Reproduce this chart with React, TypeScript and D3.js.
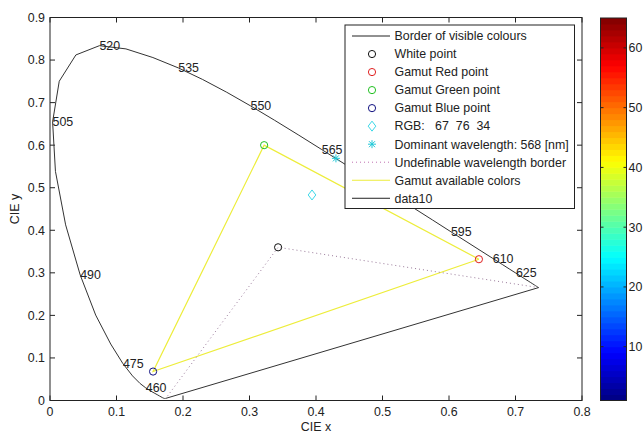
import React, { useEffect, useRef } from "react";
import * as d3 from "d3";

// CIE 1931 spectral locus, 5 nm steps
const wavelengths = [
  380, 385, 390, 395, 400, 405, 410, 415, 420, 425, 430, 435, 440, 445, 450, 455,
  460, 465, 470, 475, 480, 485, 490, 495, 500, 505, 510, 515, 520, 525, 530, 535,
  540, 545, 550, 555, 560, 565, 570, 575, 580, 585, 590, 595, 600, 605, 610, 615,
  620, 625, 630, 635, 640, 645, 650, 655, 660, 665, 670, 675, 680, 685, 690, 695, 700,
];
const locusX = [
  0.1741, 0.174, 0.1738, 0.1736, 0.1733, 0.173, 0.1726, 0.1721, 0.1714, 0.1703, 0.1689, 0.1669, 0.1644, 0.1611, 0.1566, 0.151,
  0.144, 0.1355, 0.1241, 0.1096, 0.0913, 0.0687, 0.0454, 0.0235, 0.0082, 0.0039, 0.0139, 0.0389, 0.0743, 0.1142, 0.1547, 0.1929,
  0.2296, 0.2658, 0.3016, 0.3373, 0.3731, 0.4087, 0.4441, 0.4788, 0.5125, 0.5448, 0.5752, 0.6029, 0.627, 0.6482, 0.6658, 0.6801,
  0.6915, 0.7006, 0.7079, 0.714, 0.719, 0.723, 0.726, 0.7283, 0.73, 0.7311, 0.732, 0.7327, 0.7334, 0.734, 0.7344, 0.7346, 0.7347,
];
const locusY = [
  0.005, 0.005, 0.0049, 0.0049, 0.0048, 0.0048, 0.0048, 0.0048, 0.0051, 0.0058, 0.0069, 0.0086, 0.0109, 0.0138, 0.0177, 0.0227,
  0.0297, 0.0399, 0.0578, 0.0868, 0.1327, 0.2007, 0.295, 0.4127, 0.5384, 0.6548, 0.7502, 0.812, 0.8338, 0.8262, 0.8059, 0.7816,
  0.7543, 0.7243, 0.6923, 0.6589, 0.6245, 0.5896, 0.5547, 0.5202, 0.4866, 0.4544, 0.4242, 0.3965, 0.3725, 0.3514, 0.334, 0.3197,
  0.3083, 0.2993, 0.292, 0.2859, 0.2809, 0.277, 0.274, 0.2717, 0.27, 0.2689, 0.268, 0.2673, 0.2666, 0.266, 0.2656, 0.2654, 0.2653,
];
// 580 sits behind the legend in the reference, so it is not drawn
const labelWavelengths = [460, 475, 490, 505, 520, 535, 550, 565, 595, 610, 625];

const whitePoint = [0.343, 0.36];
const gamutRed = [0.645, 0.332];
const gamutGreen = [0.322, 0.6];
const gamutBlue = [0.155, 0.068];
const rgbPoint = [0.394, 0.483];
const dominantPoint = [0.43, 0.569];

const xTicks = [0, 0.1, 0.2, 0.3, 0.4, 0.5, 0.6, 0.7, 0.8];
const yTicks = [0, 0.1, 0.2, 0.3, 0.4, 0.5, 0.6, 0.7, 0.8, 0.9];
const colorbarTicks = [10, 20, 30, 40, 50, 60];

const legendLabels = [
  "Border of visible colours",
  "White point",
  "Gamut Red point",
  "Gamut Green point",
  "Gamut Blue point",
  "RGB:   67  76  34",
  "Dominant wavelength: 568 [nm]",
  "Undefinable wavelength border",
  "Gamut available colors",
  "data10",
];

const FONT = "'Liberation Sans', Arial, sans-serif";

// jet colormap (style only)
const jet = (t: number) => {
  const c = (v: number) => Math.round(255 * Math.max(0, Math.min(1, v)));
  return `rgb(${c(1.5 - Math.abs(4 * t - 3))},${c(1.5 - Math.abs(4 * t - 2))},${c(1.5 - Math.abs(4 * t - 1))})`;
};

const App = () => {
  const ref = useRef<SVGSVGElement>(null);

  useEffect(() => {
    const svg = d3.select(ref.current);
    svg.selectAll("*").remove();

    const left = 50, right = 582, top = 17.5, bottom = 400.5;
    const x = d3.scaleLinear().domain([0, 0.8]).range([left, right]);
    const y = d3.scaleLinear().domain([0, 0.9]).range([bottom, top]);
    const ink = "#222";

    svg.append("rect").attr("width", 643).attr("height", 434).attr("fill", "#fff");

    const g = svg.append("g").style("font-family", FONT).style("font-size", "12.4px");

    // ticks (inward, all sides)
    xTicks.forEach((t) => {
      g.append("line").attr("x1", x(t)).attr("x2", x(t)).attr("y1", bottom).attr("y2", bottom - 5).attr("stroke", ink);
      g.append("line").attr("x1", x(t)).attr("x2", x(t)).attr("y1", top).attr("y2", top + 5).attr("stroke", ink);
      g.append("text").attr("x", x(t)).attr("y", bottom + 15).attr("text-anchor", "middle").attr("fill", ink).text(String(t));
    });
    yTicks.forEach((t) => {
      g.append("line").attr("x1", left).attr("x2", left + 5).attr("y1", y(t)).attr("y2", y(t)).attr("stroke", ink);
      g.append("line").attr("x1", right).attr("x2", right - 5).attr("y1", y(t)).attr("y2", y(t)).attr("stroke", ink);
      g.append("text").attr("x", left - 5).attr("y", y(t)).attr("dy", "0.35em").attr("text-anchor", "end").attr("fill", ink).text(String(t));
    });

    g.append("text").attr("x", (left + right) / 2).attr("y", 431).attr("text-anchor", "middle").attr("fill", ink).text("CIE x");
    g.append("text")
      .attr("transform", `translate(19,${(top + bottom) / 2}) rotate(-90)`)
      .attr("text-anchor", "middle")
      .attr("fill", ink)
      .text("CIE y");

    const pts = wavelengths.map((w, i) => ({ w, x: locusX[i], y: locusY[i] }));
    const line = d3.line<{ x: number; y: number }>().x((d) => x(d.x)).y((d) => y(d.y));

    // gamut triangle
    const tri = [gamutRed, gamutGreen, gamutBlue, gamutRed].map((p) => ({ x: p[0], y: p[1] }));
    g.append("path").datum(tri).attr("d", line).attr("fill", "none").attr("stroke", "#eded3a").attr("stroke-width", 1.2);

    // undefinable wavelength border
    const first = pts[0], last = pts[pts.length - 1];
    const undef = [{ x: last.x, y: last.y }, { x: whitePoint[0], y: whitePoint[1] }, { x: first.x, y: first.y }];
    g.append("path").datum(undef).attr("d", line).attr("fill", "none").attr("stroke", "#9a7a9a").attr("stroke-dasharray", "1,3");

    // locus + closing line
    g.append("path").datum(pts).attr("d", line).attr("fill", "none").attr("stroke", "#333");
    g.append("path").datum([last, first]).attr("d", line).attr("fill", "none").attr("stroke", "#333");

    // wavelength labels
    labelWavelengths.forEach((w) => {
      const p = pts.find((d) => d.w === w)!;
      g.append("text").attr("x", x(p.x)).attr("y", y(p.y)).attr("dy", "0.35em").attr("fill", ink).text(String(w));
    });

    const circle = (p: number[], color: string) =>
      g.append("circle").attr("cx", x(p[0])).attr("cy", y(p[1])).attr("r", 3.6).attr("fill", "none").attr("stroke", color);
    const diamond = (cx: number, cy: number) =>
      g.append("path").attr("d", `M${cx},${cy - 5}L${cx + 3.8},${cy}L${cx},${cy + 5}L${cx - 3.8},${cy}Z`)
        .attr("fill", "none").attr("stroke", "#3cd8e8");
    const star = (cx: number, cy: number) => {
      const s = 4;
      g.append("path")
        .attr("d", `M${cx - s},${cy}L${cx + s},${cy}M${cx},${cy - s}L${cx},${cy + s}M${cx - 3},${cy - 3}L${cx + 3},${cy + 3}M${cx - 3},${cy + 3}L${cx + 3},${cy - 3}`)
        .attr("stroke", "#20c8d8");
    };

    circle(whitePoint, "#111");
    circle(gamutRed, "#e02020");
    circle(gamutGreen, "#20c020");
    circle(gamutBlue, "#101080");
    diamond(x(rgbPoint[0]), y(rgbPoint[1]));
    star(x(dominantPoint[0]), y(dominantPoint[1]));

    // axes box
    g.append("rect").attr("x", left).attr("y", top).attr("width", right - left).attr("height", bottom - top)
      .attr("fill", "none").attr("stroke", ink);

    // legend
    const lx = 345, ly = 25, lw = 229.5, lh = 183.5, step = 18.03;
    g.append("rect").attr("x", lx).attr("y", ly).attr("width", lw).attr("height", lh).attr("fill", "#fff").attr("stroke", ink);
    legendLabels.forEach((label, i) => {
      const cy = 36 + i * step;
      const mx = 372;
      if (i === 0 || i === 9) {
        g.append("line").attr("x1", 352).attr("x2", 390).attr("y1", cy).attr("y2", cy).attr("stroke", "#222");
      } else if (i === 1) circle([x.invert(mx), y.invert(cy)], "#111");
      else if (i === 2) circle([x.invert(mx), y.invert(cy)], "#e02020");
      else if (i === 3) circle([x.invert(mx), y.invert(cy)], "#20c020");
      else if (i === 4) circle([x.invert(mx), y.invert(cy)], "#101080");
      else if (i === 5) diamond(mx, cy);
      else if (i === 6) star(mx, cy);
      else if (i === 7) {
        g.append("line").attr("x1", 352).attr("x2", 390).attr("y1", cy).attr("y2", cy)
          .attr("stroke", "#c070b0").attr("stroke-dasharray", "1,3");
      } else if (i === 8) {
        g.append("line").attr("x1", 352).attr("x2", 390).attr("y1", cy).attr("y2", cy).attr("stroke", "#eded3a").attr("stroke-width", 1.2);
      }
      g.append("text").attr("x", 394.5).attr("y", cy).attr("dy", "0.35em").attr("fill", ink)
        .style("white-space", "pre").text(label);
    });

    // colorbar
    const cbL = 600.5, cbR = 626.5;
    const cy = d3.scaleLinear().domain([1, 65]).range([bottom, 18]);
    d3.range(64).forEach((i) => {
      g.append("rect").attr("x", cbL).attr("y", cy(i + 2)).attr("width", cbR - cbL)
        .attr("height", cy(i + 1) - cy(i + 2) + 0.5).attr("fill", jet((i + 0.5) / 64));
    });
    g.append("rect").attr("x", cbL).attr("y", 18).attr("width", cbR - cbL).attr("height", bottom - 18)
      .attr("fill", "none").attr("stroke", ink);
    colorbarTicks.forEach((t) => {
      g.append("line").attr("x1", cbL).attr("x2", cbL + 3).attr("y1", cy(t)).attr("y2", cy(t)).attr("stroke", ink);
      g.append("line").attr("x1", cbR).attr("x2", cbR - 3).attr("y1", cy(t)).attr("y2", cy(t)).attr("stroke", ink);
      g.append("text").attr("x", cbR + 2).attr("y", cy(t)).attr("dy", "0.35em").attr("fill", ink).text(String(t));
    });
  }, []);

  return (
    <div style={{ position: "fixed", left: 0, top: 0 }}>
      <svg ref={ref} width={643} height={434} style={{ display: "block" }} />
    </div>
  );
};

export default App;
